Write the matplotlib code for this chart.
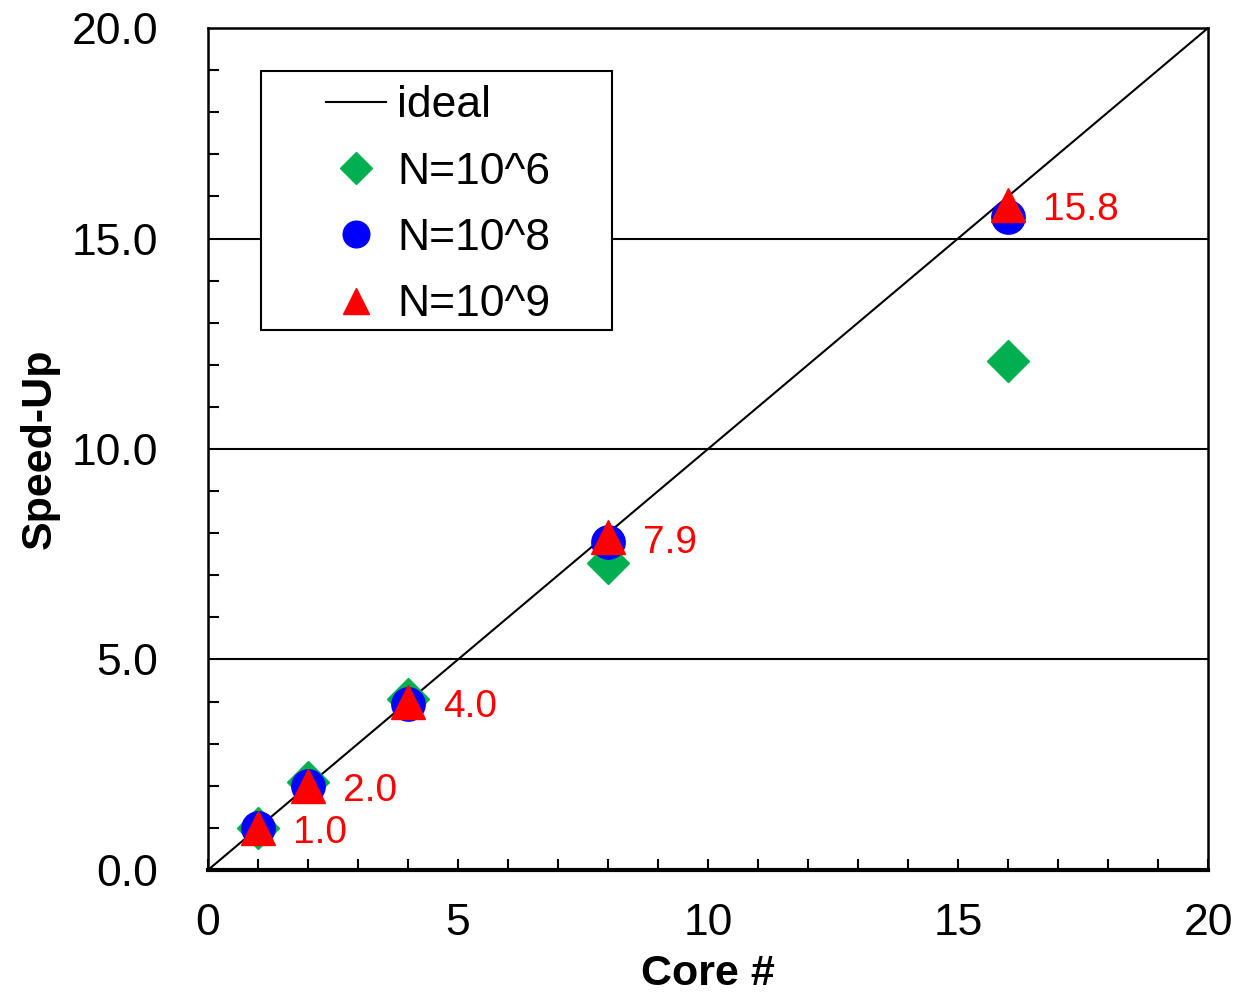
import matplotlib
matplotlib.use("Agg")
import matplotlib.pyplot as plt
from matplotlib.patches import Rectangle
from matplotlib.ticker import MultipleLocator, FormatStrFormatter

plt.rcParams["font.family"] = ["Liberation Sans", "DejaVu Sans"]

cores = [1, 2, 4, 8, 16]
speedup_1e6 = [1.0, 2.1, 4.05, 7.3, 12.1]
speedup_1e8 = [1.0, 2.0, 3.95, 7.8, 15.5]
speedup_1e9 = [1.0, 2.0, 4.0, 7.9, 15.8]
ideal = [0, 20]

fig = plt.figure(figsize=(12.5, 9.97), dpi=100)
ax = fig.add_axes([0.1664, 0.1274, 0.8, 0.8445])

for y in (5, 10, 15):
    ax.axhline(y, color="black", linewidth=1.5, zorder=1)

ax.plot(ideal, ideal, color="black", linewidth=1.5, label="ideal", zorder=2)
ax.plot(cores, speedup_1e6, linestyle="none", marker="D", markersize=21,
        color="#00B050", label="N=10^6", zorder=3)
ax.plot(cores, speedup_1e8, linestyle="none", marker="o", markersize=24,
        color="blue", label="N=10^8", zorder=4)
ax.plot(cores, speedup_1e9, linestyle="none", marker="^", markersize=24,
        color="red", label="N=10^9", zorder=5)

for x, y in zip(cores, speedup_1e9):
    ax.annotate(f"{y:.1f}", (x, y), xytext=(25, -4), textcoords="offset points",
                ha="left", va="center", fontsize=28, color="red")

ax.set_xlim(0, 20)
ax.set_ylim(0, 20)
ax.xaxis.set_major_locator(MultipleLocator(5))
ax.xaxis.set_minor_locator(MultipleLocator(1))
ax.yaxis.set_major_locator(MultipleLocator(5))
ax.yaxis.set_minor_locator(MultipleLocator(1))
ax.yaxis.set_major_formatter(FormatStrFormatter("%.1f"))
ax.tick_params(which="both", direction="in", labelsize=32, width=1.5)
ax.tick_params(which="minor", length=8)
ax.tick_params(axis="x", which="major", length=8, pad=24)
ax.tick_params(axis="y", which="major", length=0, pad=36)

for side in ("top", "right", "left"):
    ax.spines[side].set_linewidth(1.8)
ax.spines["bottom"].set_linewidth(3)

ax.set_xlabel("Core #", fontsize=31, fontweight="bold", labelpad=7)
ax.set_ylabel("Speed-Up", fontsize=31, fontweight="bold", labelpad=8)

# legend box drawn separately so the padding matches the original
ax.add_patch(Rectangle((0.053, 0.641), 0.351, 0.308, transform=ax.transAxes,
                       facecolor="white", edgecolor="black", linewidth=1.5,
                       zorder=6))
leg = ax.legend(loc="upper left", bbox_to_anchor=(0.118, 0.932), fontsize=32,
                markerscale=0.8, frameon=False, handlelength=1.35,
                borderpad=0, labelspacing=0.57, handletextpad=0.25,
                borderaxespad=0)
leg.set_zorder(7)

fig.savefig("out.png", dpi=100)
